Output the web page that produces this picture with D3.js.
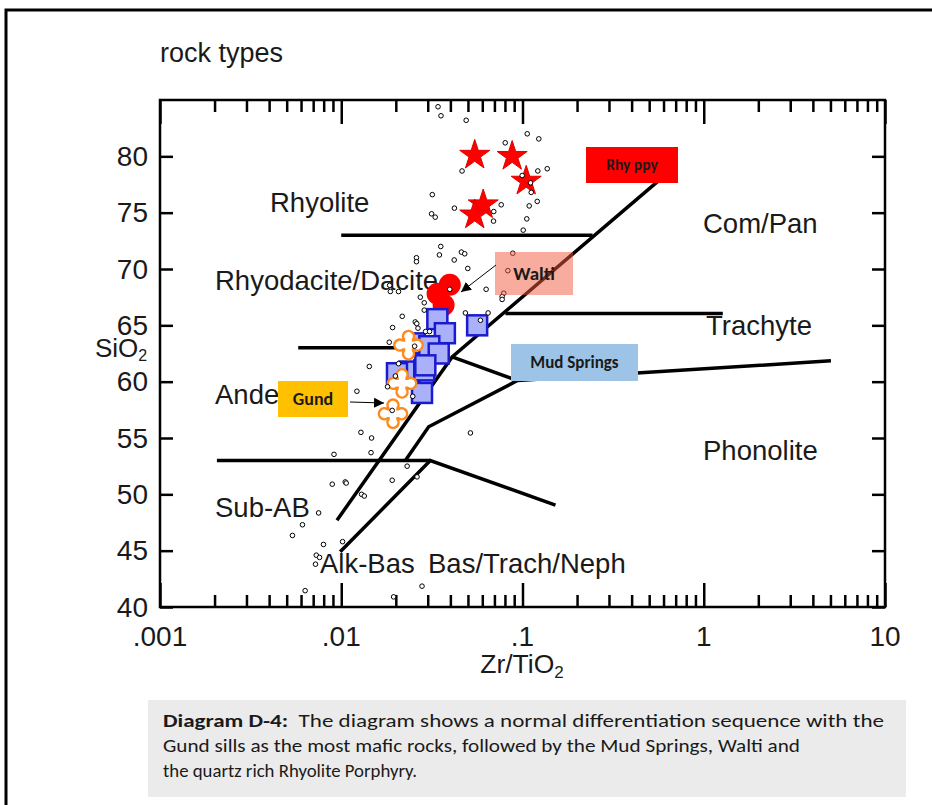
<!DOCTYPE html>
<html>
<head>
<meta charset="utf-8">
<script src="https://cdn.jsdelivr.net/npm/d3@7"></script>
<style>
  body { margin: 0; background: #fff; }
  text { font-family: "Liberation Sans", Arial, sans-serif; fill: #1a1a1a; }
</style>
</head>
<body>
<script>
// values, each as [Zr/TiO2, SiO2]
var rhyPpy = [[0.0545, 80.1], [0.0877, 80.0], [0.1048, 77.8], [0.0607, 75.7], [0.0545, 74.8]];
var walti = [[0.0397, 68.6], [0.034, 67.8], [0.0367, 66.8]];
var mudSprings = [[0.0254, 63.4], [0.0238, 60.9], [0.0287, 61.0], [0.0339, 65.55], [0.0373, 64.3],
                  [0.0562, 65.0], [0.0306, 63.15], [0.0345, 62.5], [0.0291, 61.45], [0.0203, 60.75], [0.0279, 59.0]];
var gund = [[0.0235, 63.25], [0.02165, 59.85], [0.0193, 57.15]];
var others = [
  [0.0342, 84.4], [0.0355, 83.6], [0.0489, 83.2], [0.1062, 82.0], [0.123, 81.55], [0.0803, 81.2],
  [0.0464, 78.7], [0.1215, 78.7], [0.1369, 78.9], [0.0996, 78.3], [0.1107, 77.65], [0.1117, 76.8],
  [0.0318, 76.6], [0.1206, 76.0], [0.1089, 75.6], [0.0421, 75.4], [0.0763, 75.7], [0.0315, 74.9],
  [0.033, 74.6], [0.0694, 75.1], [0.0692, 74.25], [0.1056, 74.45], [0.1009, 73.45], [0.0354, 72.0],
  [0.0348, 71.25], [0.046, 71.5], [0.048, 71.35], [0.026, 71.0], [0.026, 70.65], [0.042, 70.8],
  [0.0499, 70.05], [0.0884, 71.4], [0.083, 69.85], [0.063, 68.2], [0.0788, 67.85], [0.0772, 67.55],
  [0.0772, 67.3], [0.0646, 66.1], [0.0484, 66.1], [0.0586, 65.45], [0.0185, 68.55], [0.01866, 68.0],
  [0.0207, 68.0], [0.0397, 68.2], [0.0273, 67.5], [0.0287, 67.0], [0.0287, 66.35], [0.0217, 65.8],
  [0.0256, 65.3], [0.0261, 65.15], [0.0192, 64.8], [0.0265, 64.75], [0.0292, 64.45], [0.0307, 64.45],
  [0.0184, 63.5], [0.01428, 61.35], [0.0254, 63.15], [0.0207, 61.6], [0.0122, 59.15], [0.018, 59.55],
  [0.0191, 57.45], [0.0248, 58.7], [0.0199, 60.5], [0.01284, 55.5], [0.0147, 55.0], [0.00912, 53.55],
  [0.0146, 53.7], [0.0516, 55.45], [0.0231, 52.5], [0.0191, 51.25], [0.0262, 51.55], [0.00892, 50.9],
  [0.01052, 51.1], [0.01065, 51.0], [0.01295, 50.0], [0.0134, 49.85], [0.0075, 48.35], [0.00611, 47.3],
  [0.00538, 46.35], [0.00798, 45.55], [0.01017, 45.8], [0.00728, 44.6], [0.00759, 44.4], [0.00721, 43.8],
  [0.00632, 41.45], [0.01945, 40.9], [0.0279, 41.85]
];

// field boundaries (Winchester & Floyd), polylines in [Zr/TiO2, SiO2]
var boundaries = [
  [[0.01, 73.0], [0.2435, 73.0]],
  [[0.00947, 47.7], [0.0409, 62.2], [0.579, 78.0]],
  [[0.00579, 63.0], [0.0352, 63.0]],
  [[0.00206, 53.0], [0.031, 53.0]],
  [[0.00987, 44.9], [0.031, 53.0], [0.152, 49.05]],
  [[0.02258, 53.0], [0.03036, 56.0], [0.0938, 60.1], [5.03, 61.85]],
  [[0.0409, 62.2], [0.0938, 60.1]],
  [[0.0805, 66.06], [1.274, 66.06]]
];

// "Andesite" is cut by the Gund box in the original, only "Ande" shows
var fieldLabels = ["Rhyolite", "Com/Pan", "Rhyodacite/Dacite", "Trachyte", "Ande", "Phonolite", "Sub-AB", "Alk-Bas", "Bas/Trach/Neph"];
var xTicks = [0.001, 0.01, 0.1, 1, 10];
var xTickLabels = [".001", ".01", ".1", "1", "10"];
var yTicks = [40, 45, 50, 55, 60, 65, 70, 75, 80];

var width = 932, height = 805;
var captionFont = "Carlito, Lato, sans-serif";

var svg = d3.select("body").append("svg")
    .attr("width", width)
    .attr("height", height);

// page border (top and left only)
svg.append("path")
    .attr("d", "M6,805V10H932")
    .attr("fill", "none")
    .attr("stroke", "#000")
    .attr("stroke-width", 3);

var x = d3.scaleLog().domain([0.001, 10]).range([160, 885]);
var y = d3.scaleLinear().domain([40, 85]).range([607, 100]);

var minorX = [];
[0.001, 0.01, 0.1, 1].forEach(function(d) {
  for (var k = 2; k <= 9; k++) minorX.push(d * k);
});

function tidy(g) {
  g.select(".domain").remove();
  g.selectAll("line").attr("stroke", "#000").attr("stroke-width", 2.5);
}

svg.append("g").attr("transform", "translate(0,607)")
    .call(d3.axisBottom(x).tickValues(minorX).tickSize(-12).tickFormat("")).call(tidy);
svg.append("g").attr("transform", "translate(0,607)")
    .call(d3.axisBottom(x).tickValues(xTicks).tickSize(-24).tickFormat("")).call(tidy);
svg.append("g").attr("transform", "translate(0,100)")
    .call(d3.axisTop(x).tickValues(minorX).tickSize(-12).tickFormat("")).call(tidy);
svg.append("g").attr("transform", "translate(0,100)")
    .call(d3.axisTop(x).tickValues(xTicks).tickSize(-24).tickFormat("")).call(tidy);
svg.append("g").attr("transform", "translate(160,0)")
    .call(d3.axisLeft(y).tickValues(yTicks).tickSize(-13).tickFormat("")).call(tidy);
svg.append("g").attr("transform", "translate(885,0)")
    .call(d3.axisRight(y).tickValues(yTicks).tickSize(-13).tickFormat("")).call(tidy);

svg.append("rect")
    .attr("x", 160).attr("y", 100)
    .attr("width", 725).attr("height", 507)
    .attr("fill", "none")
    .attr("stroke", "#000")
    .attr("stroke-width", 2.5);

// tick labels
svg.selectAll(".xlab").data(xTicks).enter().append("text")
    .attr("x", function(d) { return x(d); })
    .attr("y", 646)
    .attr("text-anchor", "middle")
    .attr("font-size", 28)
    .text(function(d, i) { return xTickLabels[i]; });

svg.selectAll(".ylab").data(yTicks).enter().append("text")
    .attr("x", 148)
    .attr("y", function(d) { return y(d) + 9.5; })
    .attr("text-anchor", "end")
    .attr("font-size", 28)
    .text(function(d) { return d; });

// axis titles
var sio2 = svg.append("text").attr("x", 95).attr("y", 357).attr("font-size", 26);
sio2.append("tspan").text("SiO");
sio2.append("tspan").attr("font-size", 16).attr("dy", 4).text("2");

var zr = svg.append("text").attr("x", 522).attr("y", 673).attr("text-anchor", "middle").attr("font-size", 26.5);
zr.append("tspan").text("Zr/TiO");
zr.append("tspan").attr("font-size", 17).attr("dy", 5).text("2");

svg.append("text").attr("x", 160).attr("y", 62).attr("font-size", 27).text("rock types");

// field boundaries
var line = d3.line()
    .x(function(d) { return x(d[0]); })
    .y(function(d) { return y(d[1]); });

svg.selectAll(".bound").data(boundaries).enter().append("path")
    .attr("d", line)
    .attr("fill", "none")
    .attr("stroke", "#000")
    .attr("stroke-width", 3.5);

// field names
var labelPos = [[270, 212], [703, 233], [215, 290], [706, 335], [215, 404], [703, 460], [215, 517], [320, 573], [428, 573]];
svg.selectAll(".field").data(fieldLabels).enter().append("text")
    .attr("x", function(d, i) { return labelPos[i][0]; })
    .attr("y", function(d, i) { return labelPos[i][1]; })
    .attr("font-size", 27.5)
    .text(function(d) { return d; });

// markers
svg.selectAll(".star").data(rhyPpy).enter().append("path")
    .attr("d", d3.symbol().type(d3.symbolStar).size(280))
    .attr("transform", function(d) { return "translate(" + x(d[0]) + "," + y(d[1]) + ")"; })
    .attr("fill", "#ff0000")
    .attr("stroke", "#e00000")
    .attr("stroke-width", 1);

svg.selectAll(".walti").data(walti).enter().append("circle")
    .attr("cx", function(d) { return x(d[0]); })
    .attr("cy", function(d) { return y(d[1]); })
    .attr("r", 11)
    .attr("fill", "#ff0000");

svg.selectAll(".mud").data(mudSprings).enter().append("rect")
    .attr("x", function(d) { return x(d[0]) - 10; })
    .attr("y", function(d) { return y(d[1]) - 10; })
    .attr("width", 20).attr("height", 20)
    .attr("fill", "#aab0fa")
    .attr("stroke", "#1a1ad0")
    .attr("stroke-width", 2.5);

// four-lobed marker for the Gund sills
function lobes(h, L, r) {
  return "M" + h + "," + (-h) +
    "L" + h + "," + (-L) + "A" + r + "," + r + " 0 1 0 " + (-h) + "," + (-L) +
    "L" + (-h) + "," + (-h) + "L" + (-L) + "," + (-h) + "A" + r + "," + r + " 0 1 0 " + (-L) + "," + h +
    "L" + (-h) + "," + h + "L" + (-h) + "," + L + "A" + r + "," + r + " 0 1 0 " + h + "," + L +
    "L" + h + "," + h + "L" + L + "," + h + "A" + r + "," + r + " 0 1 0 " + L + "," + (-h) + "Z";
}
svg.selectAll(".gund").data(gund).enter().append("path")
    .attr("d", lobes(4.5, 5.5, 5.5))
    .attr("transform", function(d) { return "translate(" + x(d[0]) + "," + y(d[1]) + ")"; })
    .attr("fill", "#fff")
    .attr("stroke", "#ff8a1c")
    .attr("stroke-width", 2.5);

svg.selectAll(".other").data(others).enter().append("circle")
    .attr("cx", function(d) { return x(d[0]); })
    .attr("cy", function(d) { return y(d[1]); })
    .attr("r", 2.3)
    .attr("fill", "#fff")
    .attr("stroke", "#000")
    .attr("stroke-width", 1);

// call-out boxes
svg.append("defs").append("marker")
    .attr("id", "head")
    .attr("viewBox", "0 0 10 10")
    .attr("refX", 10).attr("refY", 5)
    .attr("markerWidth", 10).attr("markerHeight", 10)
    .attr("markerUnits", "userSpaceOnUse")
    .attr("orient", "auto")
  .append("path")
    .attr("d", "M0,0L10,5L0,10Z")
    .attr("fill", "#000");

function callout(bx, by, bw, bh, fill, opacity, label, fs) {
  svg.append("rect")
      .attr("x", bx).attr("y", by)
      .attr("width", bw).attr("height", bh)
      .attr("fill", fill)
      .attr("fill-opacity", opacity);
  svg.append("text")
      .attr("x", bx + bw / 2).attr("y", by + bh / 2 + fs * 0.35)
      .attr("text-anchor", "middle")
      .style("font-family", captionFont)
      .attr("font-weight", "bold")
      .attr("font-size", fs)
      .text(label);
}

callout(586, 147, 92, 36, "#ff0000", 1, "Rhy ppy", 15.5);
callout(495, 252, 78, 43, "#f25a3c", 0.5, "Walti", 19);
callout(511, 344, 127, 37, "#9dc3e6", 1, "Mud Springs", 17);
callout(278, 381, 70, 36, "#ffc000", 1, "Gund", 18);

svg.append("line")
    .attr("x1", 496).attr("y1", 265).attr("x2", 461).attr("y2", 292)
    .attr("stroke", "#000").attr("stroke-width", 1)
    .attr("marker-end", "url(#head)");
svg.append("line")
    .attr("x1", 350).attr("y1", 402).attr("x2", 384).attr("y2", 403)
    .attr("stroke", "#000").attr("stroke-width", 1)
    .attr("marker-end", "url(#head)");

// caption
svg.append("rect")
    .attr("x", 148).attr("y", 700)
    .attr("width", 758).attr("height", 97)
    .attr("fill", "#ebebeb");

var captionLines = [
  {bold: "Diagram D-4:", rest: "  The diagram shows a normal differentiation sequence with the", len: 721},
  {bold: "", rest: "Gund sills as the most mafic rocks, followed by the Mud Springs, Walti and", len: 637},
  {bold: "", rest: "the quartz rich Rhyolite Porphyry.", len: 254}
];
captionLines.forEach(function(c, i) {
  var t = svg.append("text")
      .attr("x", 163).attr("y", 727 + i * 25)
      .style("font-family", captionFont)
      .attr("font-size", 18)
      .attr("textLength", c.len)
      .attr("lengthAdjust", "spacingAndGlyphs")
      .attr("xml:space", "preserve");
  if (c.bold) t.append("tspan").attr("font-weight", "bold").text(c.bold);
  t.append("tspan").text(c.rest);
});
</script>
</body>
</html>
